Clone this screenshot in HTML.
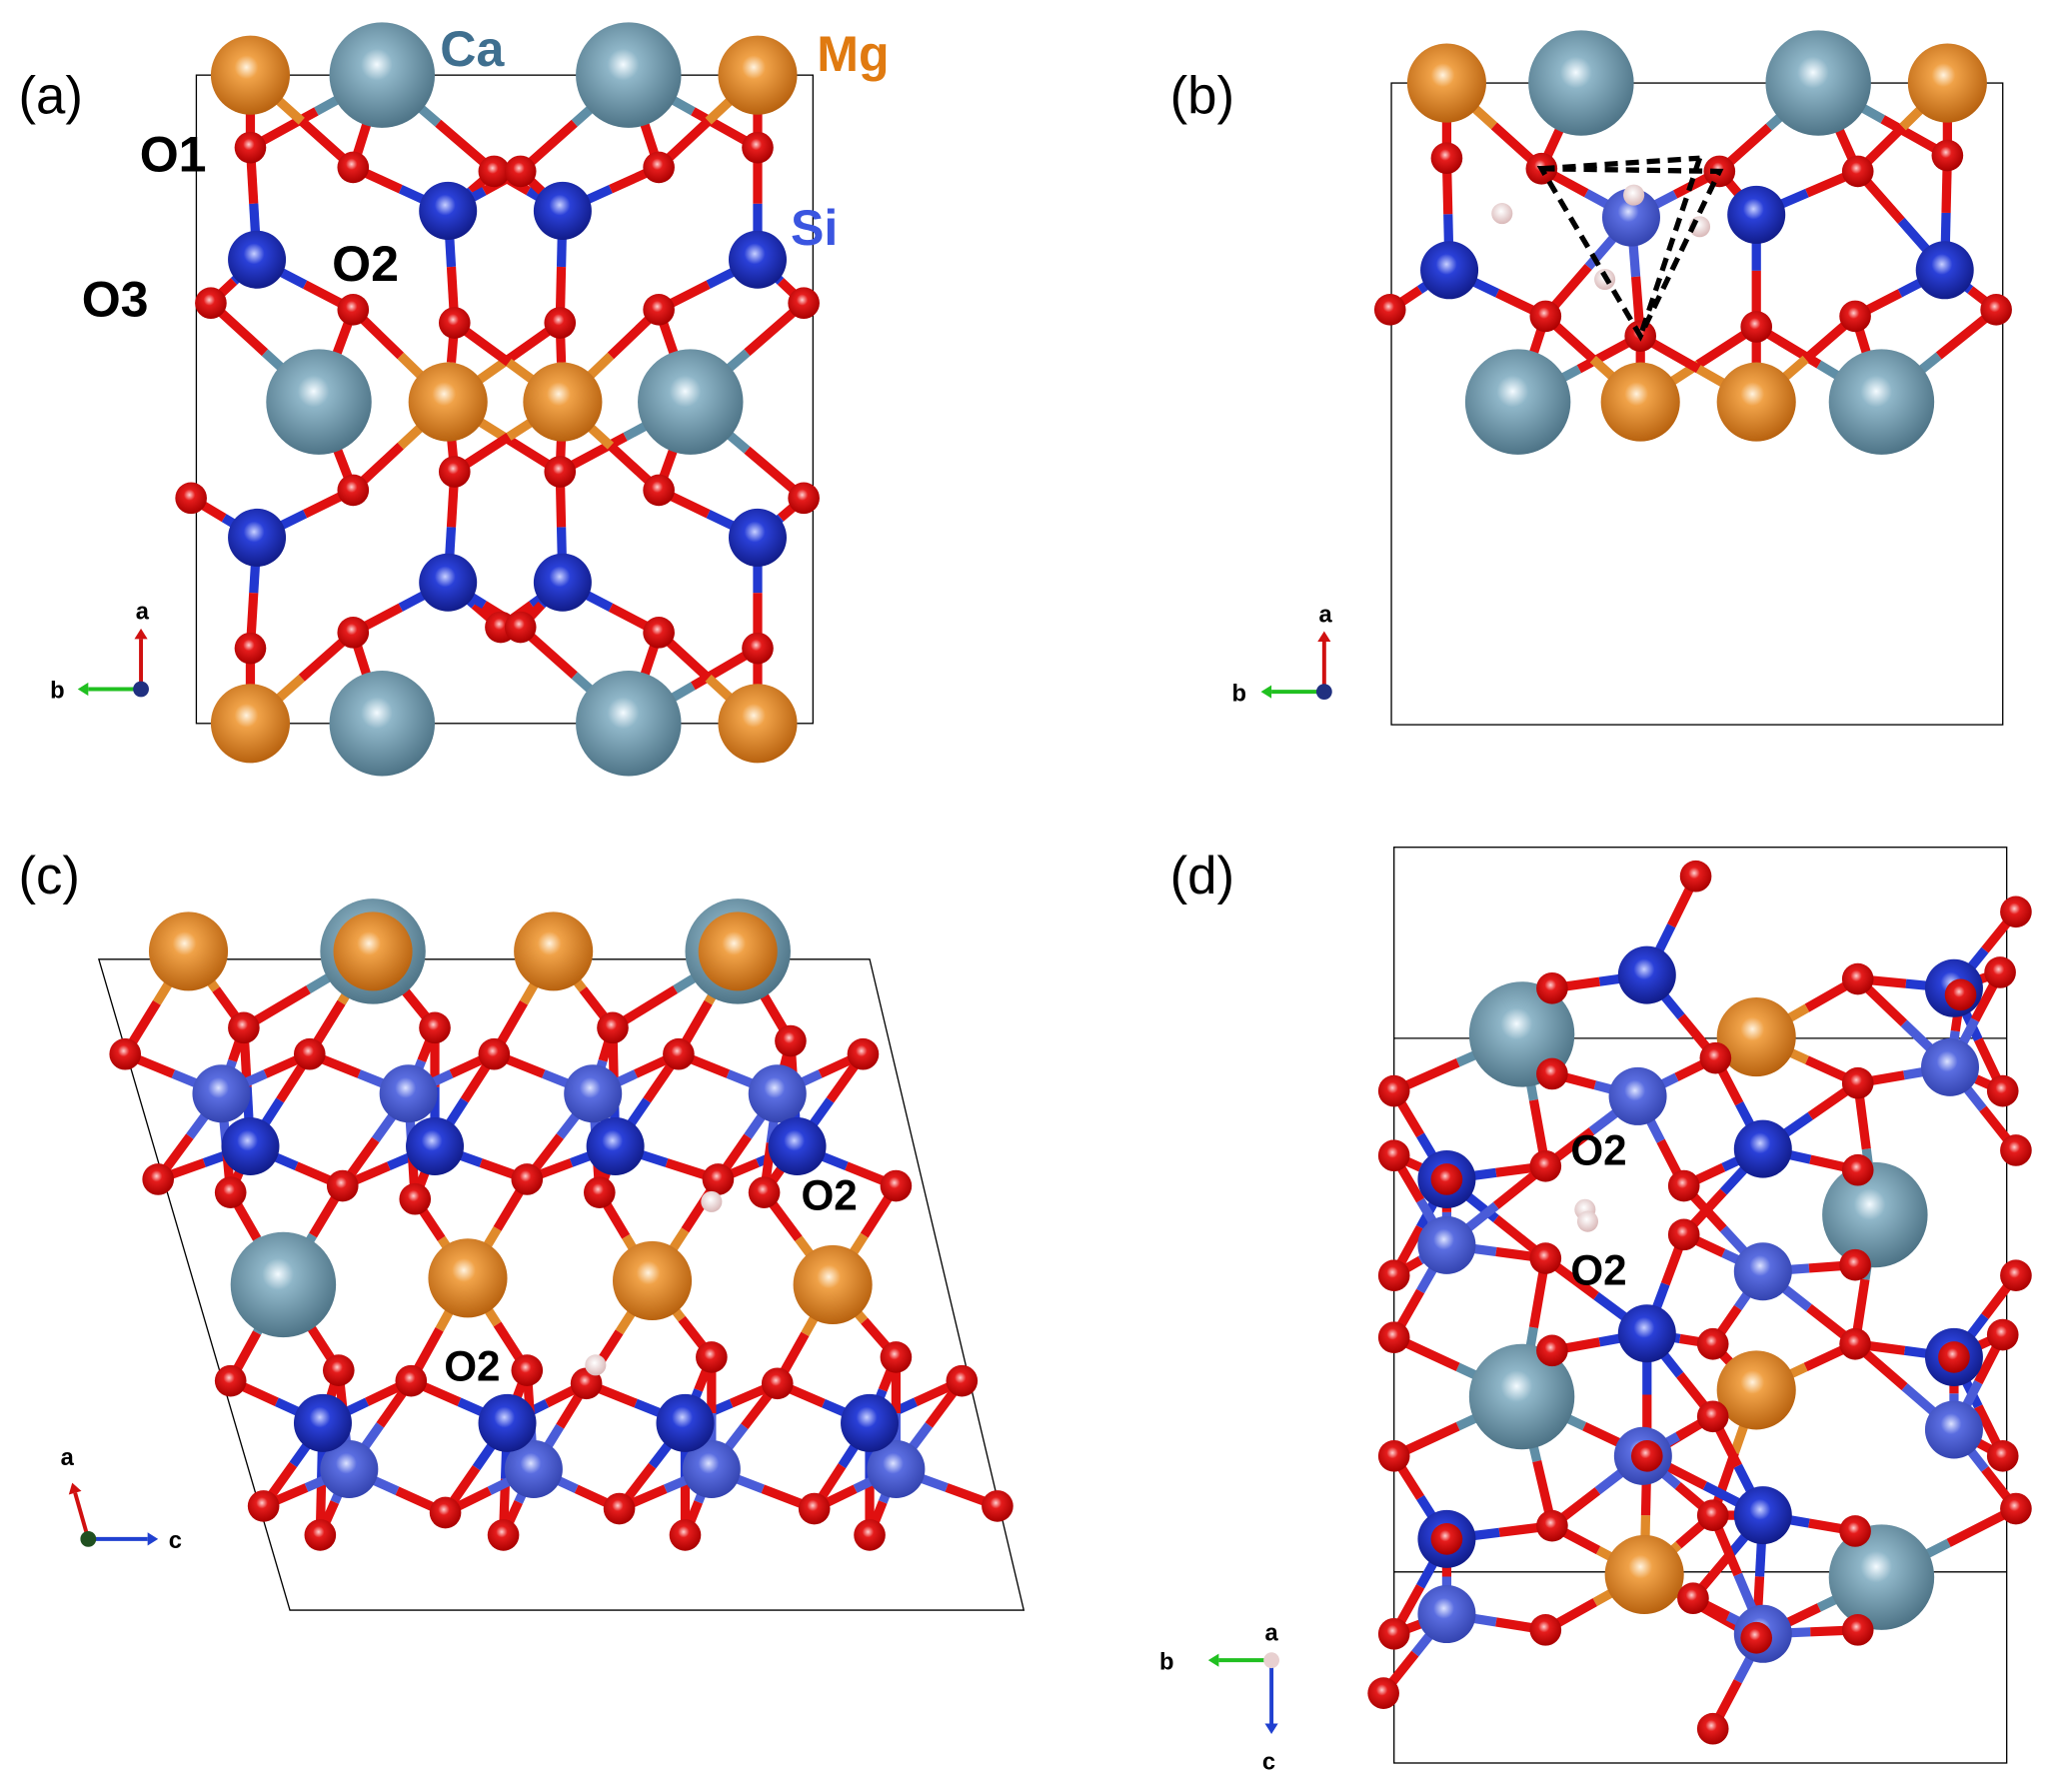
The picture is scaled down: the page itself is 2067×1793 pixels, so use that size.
<!DOCTYPE html>
<html><head><meta charset="utf-8"><style>
html,body{margin:0;padding:0;background:#fff;}
svg{display:block}
text{font-family:"Liberation Sans",Arial,sans-serif;}
</style></head><body>
<svg id="s" width="2067" height="1793" viewBox="0 0 1568 1360" preserveAspectRatio="none" xmlns="http://www.w3.org/2000/svg">
<defs>
<radialGradient id="gCa" cx="0.45" cy="0.4" r="0.6"><stop offset="0" stop-color="#f4fbff"/><stop offset="0.25" stop-color="#8fb6c8"/><stop offset="1" stop-color="#4e7487"/></radialGradient>
<radialGradient id="gMg" cx="0.45" cy="0.4" r="0.6"><stop offset="0" stop-color="#fff3df"/><stop offset="0.25" stop-color="#f0a248"/><stop offset="1" stop-color="#b8620f"/></radialGradient>
<radialGradient id="gSi" cx="0.45" cy="0.4" r="0.6"><stop offset="0" stop-color="#c8d0ff"/><stop offset="0.3" stop-color="#2a40d8"/><stop offset="1" stop-color="#111c8a"/></radialGradient>
<radialGradient id="gSl" cx="0.45" cy="0.4" r="0.6"><stop offset="0" stop-color="#dde3ff"/><stop offset="0.3" stop-color="#5a6de0"/><stop offset="1" stop-color="#3444b0"/></radialGradient>
<radialGradient id="gO" cx="0.45" cy="0.4" r="0.6"><stop offset="0" stop-color="#ffd0d0"/><stop offset="0.3" stop-color="#e51c1c"/><stop offset="1" stop-color="#a00"/></radialGradient>
<radialGradient id="gH" cx="0.45" cy="0.4" r="0.6"><stop offset="0" stop-color="#fff"/><stop offset="1" stop-color="#d9b8b8"/></radialGradient>
</defs>
<g fill="none" stroke="#000" stroke-width="1">
<rect x="149" y="57" width="468" height="492"/>
<rect x="1056" y="63" width="464" height="487"/>
<polygon points="75,728 660,728 777,1222 220,1222"/>
<rect x="1058" y="643" width="465" height="695"/>
<line x1="1058" y1="788" x2="1523" y2="788"/><line x1="1058" y1="1193" x2="1523" y2="1193"/>
</g>
<g id="bonds"></g>
<g id="atoms"></g>
<g stroke="#000" stroke-width="4" stroke-dasharray="10,6" fill="none">
<polygon points="1170,128 1305,130 1245,255"/>
<line x1="1170" y1="128" x2="1290" y2="120"/>
<line x1="1290" y1="120" x2="1245" y2="255"/>
</g>
<g font-size="40">
<text x="14" y="86">(a)</text><text x="888" y="86">(b)</text>
<text x="14" y="678">(c)</text><text x="888" y="678">(d)</text>
</g>
<g font-size="38" font-weight="bold">
<text x="334" y="50" fill="#3f6f8f">Ca</text>
<text x="620" y="54" fill="#e07a10">Mg</text>
<text x="600" y="186" fill="#3a55e0">Si</text>
<text x="106" y="130" fill="#000">O1</text>
<text x="252" y="213" fill="#000">O2</text>
<text x="62" y="240" fill="#000">O3</text>
</g>
<g font-size="32" font-weight="bold" fill="#000">
<text x="608" y="918">O2</text><text x="337" y="1048">O2</text>
<text x="1192" y="884">O2</text><text x="1192" y="975">O2</text>
</g>
<g id="axes" font-size="18" font-weight="bold"></g>
</svg>
<script>
var A={
Ca:[[290,57],[477,57],[290,549],[477,549],[242,305],[524,305],
 [1200,63],[1380,63],[1152,305],[1428,305],
 [283,722],[560,722],[215,975],
 [1155,785],[1423,922],[1155,1060],[1428,1197]],
Mg:[[190,57],[575,57],[190,549],[575,549],[340,305],[427,305],
 [1098,63],[1478,63],[1245,305],[1333,305],
 [143,722],[420,722],[283,722,1],[560,722,1],[355,970],[495,972],[632,975],
 [1333,787],[1333,1055],[1248,1195]],
Si:[[195,197],[340,160],[427,160],[575,197],[195,408],[340,442],[427,442],[575,408],
 [1333,163],[1100,205],[1476,205],
 [190,870],[330,870],[467,870],[605,870],[245,1080],[385,1080],[520,1080],[660,1080],
 [1250,740],[1483,750],[1338,872],[1098,895],[1250,1012],[1483,1030],[1338,1150],[1098,1168]],
Sl:[[1238,165],[168,830],[310,830],[450,830],[590,830],[265,1115],[405,1115],[540,1115],[680,1115],
 [1480,810],[1243,832],[1098,945],[1338,965],[1483,1085],[1247,1105],[1098,1225],[1338,1240]],
O:[[190,112],[268,127],[375,130],[395,130],[500,127],[575,112],[160,230],[268,235],[345,245],[425,245],[500,235],[610,230],
 [145,378],[268,372],[345,358],[425,358],[500,372],[610,378],[190,492],[268,480],[380,476],[395,476],[500,480],[575,492],
 [1098,120],[1170,128],[1305,130],[1410,130],[1478,118],[1055,235],[1173,240],[1245,255],[1333,248],[1408,240],[1515,235],
 [95,800],[185,780],[235,800],[330,780],[375,800],[465,780],[515,800],[600,790],[655,800],
 [120,895],[175,905],[260,900],[315,910],[400,895],[455,905],[545,895],[580,905],[680,900],
 [175,1048],[257,1040],[312,1048],[400,1040],[445,1050],[540,1030],[590,1050],[680,1030],[730,1048],
 [200,1143],[243,1165],[338,1148],[382,1165],[470,1145],[520,1165],[618,1145],[660,1165],[757,1143],
 [1287,665],[1530,692],[1518,738],[1178,750],[1410,743],[1488,755],[1302,803],[1178,815],[1410,822],[1058,828],[1520,828],
 [1098,895],[1173,885],[1278,900],[1410,888],[1530,873],[1058,877],[1173,955],[1278,937],[1408,960],[1058,968],[1530,968],
 [1178,1025],[1300,1020],[1408,1020],[1058,1015],[1520,1013],[1483,1030],[1300,1075],[1058,1105],[1520,1105],[1250,1105],
 [1178,1158],[1300,1150],[1408,1162],[1098,1168],[1530,1145],[1285,1213],[1058,1240],[1173,1237],[1333,1243],[1410,1237],[1050,1285],[1300,1312]],
H:[[1140,162],[1240,148],[1290,172],[1218,212],[540,912],[452,1036],[1203,918],[1205,927]]};
var R={Ca:40,Mg:30,Si:22,Sl:22,O:12,H:8};
var C={Ca:'#5f8ea6',Mg:'#e08a2a',Si:'#2238d0',Sl:'#4a5cd8',O:'#e01010',H:'#e0c8c8'};
var G={Ca:'gCa',Mg:'gMg',Si:'gSi',Sl:'gSl',O:'gO',H:'gH'};
var T={Ca:115,Mg:105,Si:100,Sl:100};
var ns='http://www.w3.org/2000/svg',b=document.getElementById('bonds'),at=document.getElementById('atoms');
function ln(x1,y1,x2,y2,c){var l=document.createElementNS(ns,'line');l.setAttribute('x1',x1);l.setAttribute('y1',y1);l.setAttribute('x2',x2);l.setAttribute('y2',y2);l.setAttribute('stroke',c);l.setAttribute('stroke-width',7);b.appendChild(l);}
for(var k in T){A[k].forEach(function(p){A.O.forEach(function(o){var d=Math.hypot(p[0]-o[0],p[1]-o[1]);if(d>5&&d<T[k]){var mx=(p[0]+o[0])/2,my=(p[1]+o[1])/2;ln(p[0],p[1],mx,my,C[k]);ln(mx,my,o[0],o[1],C.O);}});});}
A.H.forEach(function(h){A.O.forEach(function(o){var d=Math.hypot(h[0]-o[0],h[1]-o[1]);if(d<35)ln(h[0],h[1],o[0],o[1],'#e8c0c0');});});
['Ca','Mg','Sl','Si','O','H'].forEach(function(k){A[k].forEach(function(p){var c=document.createElementNS(ns,'circle');c.setAttribute('cx',p[0]);c.setAttribute('cy',p[1]);c.setAttribute('r',R[k]);c.setAttribute('fill','url(#'+G[k]+')');at.appendChild(c);});});
var ax=document.getElementById('axes');
function arrow(x,y,dx,dy,c,lab,lx,ly){var l=document.createElementNS(ns,'line');l.setAttribute('x1',x);l.setAttribute('y1',y);l.setAttribute('x2',x+dx);l.setAttribute('y2',y+dy);l.setAttribute('stroke',c);l.setAttribute('stroke-width',3);ax.appendChild(l);
var L=Math.hypot(dx,dy),ux=dx/L,uy=dy/L,ex=x+dx,ey=y+dy;var p=document.createElementNS(ns,'polygon');
p.setAttribute('points',(ex+ux*8)+','+(ey+uy*8)+' '+(ex-uy*5)+','+(ey+ux*5)+' '+(ex+uy*5)+','+(ey-ux*5));p.setAttribute('fill',c);ax.appendChild(p);
var t=document.createElementNS(ns,'text');t.setAttribute('x',lx);t.setAttribute('y',ly);t.textContent=lab;ax.appendChild(t);}
arrow(107,523,0,-38,'#d01010','a',103,470);arrow(107,523,-40,0,'#20c020','b',38,530);
arrow(1005,525,0,-38,'#d01010','a',1001,472);arrow(1005,525,-40,0,'#20c020','b',935,532);
arrow(67,1168,-10,-35,'#d01010','a',46,1112);arrow(67,1168,45,0,'#2040d0','c',128,1175);
arrow(965,1260,-40,0,'#20c020','b',880,1267);arrow(965,1260,0,48,'#2040d0','c',958,1343);
[[107,523,'#203080'],[1005,525,'#203080'],[67,1168,'#205020'],[965,1260,'#e8d0d0']].forEach(function(q){var c=document.createElementNS(ns,'circle');c.setAttribute('cx',q[0]);c.setAttribute('cy',q[1]);c.setAttribute('r',6);c.setAttribute('fill',q[2]);ax.appendChild(c);});
var t=document.createElementNS(ns,'text');t.setAttribute('x',960);t.setAttribute('y',1245);t.textContent='a';ax.appendChild(t);
</script>
</body></html>
